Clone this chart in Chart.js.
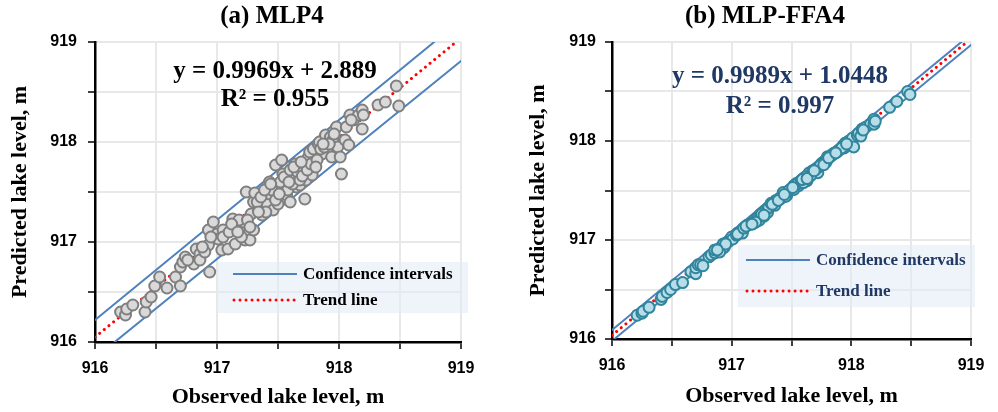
<!DOCTYPE html>
<html lang="en">
<head>
<meta charset="UTF-8">
<title>Observed vs predicted lake level</title>
<script src="https://cdn.jsdelivr.net/npm/chart.js"></script>
<style>
  body { margin: 0; background: #fff; }
  .panel { position: absolute; top: 0; width: 499px; height: 412px; }
</style>
</head>
<body>
<div class="panel" style="left:0"><canvas id="chartA" width="499" height="412"></canvas></div>
<div class="panel" style="left:499px"><canvas id="chartB" width="499" height="412"></canvas></div>
<script>
// observed lake level (m), shared by both models
const observed = [
  916.21, 916.25, 916.26, 916.31, 916.41, 916.42, 916.46, 916.49, 916.53, 916.59,
  916.66, 916.70, 916.70, 916.72, 916.74, 916.81, 916.83, 916.86, 916.86, 916.94,
  916.93, 916.93, 916.97, 917.00, 917.01, 917.04, 917.05, 917.09, 917.13, 917.15,
  917.19, 917.22, 917.23, 917.26, 917.27, 917.24, 917.28, 917.30, 917.30, 917.31,
  917.37, 917.37, 917.41, 917.43, 917.43, 917.46, 917.48, 917.50, 917.52, 917.53,
  917.54, 917.56, 917.57, 917.60, 917.61, 917.63, 917.64, 917.65, 917.68, 917.71,
  917.72, 917.73, 917.75, 917.76, 917.78, 917.79, 917.80, 917.83, 917.84, 917.86,
  917.89, 917.91, 917.93, 917.94, 917.95, 917.98, 917.99, 918.01, 918.02, 918.05,
  918.06, 918.08, 918.09, 918.12, 918.16, 918.19, 918.19, 918.20, 918.32, 918.38,
  918.47, 918.49,
  917.05, 917.10, 917.18, 917.25, 917.33, 917.36, 917.40, 917.45, 917.48, 917.52,
  917.55, 917.58, 917.60, 917.62, 917.66, 917.68, 917.70, 917.74, 917.77, 917.82,
  917.85, 917.88, 917.92, 917.96, 916.90, 916.95, 916.88, 916.76, 917.20, 917.27,
  917.12, 917.17, 917.34, 917.39, 917.44, 917.51, 917.59, 917.63, 917.69, 917.81,
  917.87, 918.10
];

// (a) MLP4 predictions
const predictedMLP = [
  916.30, 916.27, 916.33, 916.37, 916.30, 916.40, 916.45, 916.56, 916.65, 916.54,
  916.65, 916.56, 916.75, 916.80, 916.85, 916.78, 916.93, 916.88, 916.82, 916.70,
  916.97, 917.12, 917.20, 917.08, 917.03, 916.92, 917.12, 916.93, 917.23, 916.98,
  917.15, 917.20, 917.02, 917.08, 917.02, 917.50, 917.28, 917.12, 917.40, 917.49,
  917.27, 917.35, 917.38, 917.60, 917.48, 917.32, 917.77, 917.38, 917.55, 917.82,
  917.68, 917.58, 917.47, 917.40, 917.68, 917.62, 917.78, 917.55, 917.57, 917.75,
  917.43, 917.62, 917.85, 917.90, 917.67, 917.93, 917.80, 917.98, 918.00, 917.88,
  918.07, 917.95, 918.05, 917.85, 918.02, 918.15, 917.95, 917.85, 917.68, 918.02,
  918.15, 917.97, 918.27, 918.22, 918.27, 918.32, 918.13, 918.27, 918.37, 918.40,
  918.56, 918.36,
  917.05, 917.10, 917.22, 917.22, 917.40, 917.45, 917.30, 917.52, 917.42, 917.60,
  917.65, 917.52, 917.72, 917.58, 917.70, 917.62, 917.66, 917.72, 917.78, 917.82,
  917.93, 917.95, 917.98, 918.08, 916.90, 917.05, 916.95, 916.82, 917.05, 917.15,
  917.18, 917.10, 917.30, 917.52, 917.58, 917.48, 917.60, 917.75, 917.80, 917.75,
  917.98, 918.22
];

// (b) MLP-FFA4 predictions
const predictedFFA = [
  916.24, 916.26, 916.28, 916.32, 916.40, 916.43, 916.47, 916.50, 916.55, 916.57,
  916.68, 916.66, 916.72, 916.75, 916.75, 916.83, 916.85, 916.87, 916.90, 916.93,
  916.96, 916.92, 916.98, 917.03, 917.01, 917.05, 917.07, 917.07, 917.15, 917.16,
  917.20, 917.23, 917.20, 917.28, 917.24, 917.26, 917.30, 917.28, 917.32, 917.33,
  917.38, 917.40, 917.42, 917.48, 917.44, 917.45, 917.50, 917.52, 917.55, 917.54,
  917.57, 917.55, 917.59, 917.62, 917.63, 917.60, 917.66, 917.68, 917.70, 917.72,
  917.68, 917.74, 917.77, 917.78, 917.80, 917.79, 917.84, 917.85, 917.86, 917.88,
  917.90, 917.92, 917.95, 917.93, 917.98, 918.00, 917.96, 918.03, 917.94, 918.06,
  918.08, 918.05, 918.12, 918.14, 918.17, 918.22, 918.17, 918.20, 918.34, 918.40,
  918.50, 918.47,
  917.06, 917.12, 917.17, 917.26, 917.37, 917.35, 917.42, 917.44, 917.50, 917.51,
  917.57, 917.60, 917.58, 917.64, 917.65, 917.70, 917.71, 917.75, 917.76, 917.84,
  917.87, 917.89, 917.93, 917.97, 916.88, 916.96, 916.90, 916.74, 917.18, 917.25,
  917.14, 917.16, 917.36, 917.40, 917.46, 917.53, 917.61, 917.62, 917.70, 917.83,
  917.88, 918.11
];

// axis labels and line end points (x = 916 and x = 919)
const axisTicks = [916, 917, 918, 919];
const lineEnds = [916, 919];
const trendMLP = [916.049, 919.040];
const upperMLP = [916.22, 919.22];
const lowerMLP = [915.84, 918.81];
const trendFFA = [916.037, 919.034];
const upperFFA = [916.09, 919.08];
const lowerFFA = [915.98, 918.97];

const serif = '"Liberation Serif", "Times New Roman", serif';
const sans = '"Liberation Sans", Arial, sans-serif';

function toPoints(xs, ys) {
  return xs.map((x, i) => ({ x: x, y: ys[i] }));
}

// title, equation and legend box drawn on top of the chart
const overlay = {
  id: 'overlay',
  afterDraw(chart, args, o) {
    const ctx = chart.ctx;
    ctx.save();
    ctx.textBaseline = 'middle';

    ctx.fillStyle = '#000';
    ctx.textAlign = 'center';
    ctx.font = 'bold 25px ' + serif;
    ctx.fillText(o.title, o.titleX, 17);

    ctx.fillStyle = o.textColor;
    ctx.font = 'bold 25px ' + serif;
    ctx.fillText(o.equation, o.eqX, o.eqY);
    ctx.fillText(o.r2, o.eqX, o.eqY + o.eqGap);

    const b = o.box;
    ctx.fillStyle = 'rgba(226, 233, 245, 0.55)';
    ctx.fillRect(b.x, b.y, b.w, b.h);

    ctx.lineWidth = 2;
    ctx.strokeStyle = '#4f81bd';
    ctx.beginPath();
    ctx.moveTo(b.sx, b.y1);
    ctx.lineTo(b.sx + 64, b.y1);
    ctx.stroke();

    ctx.lineWidth = 3;
    ctx.strokeStyle = '#ff0000';
    ctx.lineCap = 'round';
    ctx.setLineDash([0.01, 6]);
    ctx.beginPath();
    ctx.moveTo(b.sx + 1, b.y2);
    ctx.lineTo(b.sx + 64, b.y2);
    ctx.stroke();
    ctx.setLineDash([]);

    ctx.fillStyle = o.textColor;
    ctx.textAlign = 'left';
    ctx.font = 'bold 17px ' + serif;
    ctx.fillText('Confidence intervals', b.sx + 70, b.y1 + 1);
    ctx.fillText('Trend line', b.sx + 70, b.y2 + 1);
    ctx.restore();
  }
};

function makeChart(id, s) {
  const lineDs = (ys, color, width, dash) => ({
    data: toPoints(lineEnds, ys),
    showLine: true,
    pointRadius: 0,
    borderColor: color,
    borderWidth: width,
    borderDash: dash,
    borderCapStyle: 'round',
    order: 2
  });

  const axis = (tickPad, title, titlePad, fitSize, horizontal) => ({
    type: 'linear',
    min: 916,
    max: 919,
    ticks: {
      stepSize: 0.5,
      padding: tickPad,
      color: '#000',
      font: { family: sans, size: 16, weight: 'bold' },
      maxRotation: 0,
      callback: v => axisTicks.includes(v) ? String(v) : ''
    },
    grid: {
      color: '#e8e8e8',
      lineWidth: 2,
      tickColor: '#000',
      tickLength: 7,
      tickWidth: 1.5
    },
    border: { color: '#000', width: 2.5 },
    title: {
      display: true,
      text: title,
      color: '#000',
      font: { family: serif, size: 22, weight: 'bold' },
      padding: titlePad
    },
    afterFit: scale => {
      if (horizontal) scale.height = fitSize; else scale.width = fitSize;
    }
  });

  return new Chart(document.getElementById(id), {
    type: 'scatter',
    data: {
      datasets: [
        {
          data: toPoints(observed, s.predicted),
          pointRadius: 5.5,
          pointBorderWidth: 2,
          backgroundColor: s.fill,
          borderColor: s.stroke,
          order: 1
        },
        lineDs(s.upper, '#4f81bd', 2, []),
        lineDs(s.lower, '#4f81bd', 2, []),
        lineDs(s.trend, '#ff0000', 3, [0.01, 6])
      ]
    },
    options: {
      responsive: false,
      animation: false,
      devicePixelRatio: 1,
      layout: { padding: { top: 42, right: s.padRight, bottom: 0, left: 0 } },
      scales: {
        x: axis(10, 'Observed lake level, m', { top: 0, bottom: s.xTitlePad }, s.xHeight, true),
        y: axis(s.yTickPad, 'Predicted lake level, m', { top: s.yTitlePad, bottom: 0 }, s.yWidth, false)
      },
      plugins: {
        legend: { display: false },
        tooltip: { enabled: false },
        overlay: s.overlay
      }
    },
    plugins: [overlay]
  });
}

makeChart('chartA', {
  predicted: predictedMLP,
  upper: upperMLP, lower: lowerMLP, trend: trendMLP,
  fill: '#d9d9d9', stroke: '#7f7f7f',
  padRight: 38, xHeight: 70, yWidth: 95, yTickPad: 11, yTitlePad: 7, xTitlePad: 1,
  overlay: {
    title: '(a) MLP4', titleX: 272, textColor: '#000',
    equation: 'y = 0.9969x + 2.889', r2: 'R² = 0.955', eqX: 275, eqY: 72, eqGap: 28,
    box: { x: 218, y: 262, w: 250, h: 51, sx: 233, y1: 274, y2: 300 }
  }
});

makeChart('chartB', {
  predicted: predictedFFA,
  upper: upperFFA, lower: lowerFFA, trend: trendFFA,
  fill: '#b7dee8', stroke: '#31859c',
  padRight: 27, xHeight: 73, yWidth: 113, yTickPad: 9, yTitlePad: 26, xTitlePad: 2,
  overlay: {
    title: '(b) MLP-FFA4', titleX: 266, textColor: '#1f3864',
    equation: 'y = 0.9989x + 1.0448', r2: 'R² = 0.997', eqX: 281, eqY: 77, eqGap: 30,
    box: { x: 239, y: 245, w: 237, h: 62, sx: 247, y1: 260, y2: 291 }
  }
});
</script>
</body>
</html>
